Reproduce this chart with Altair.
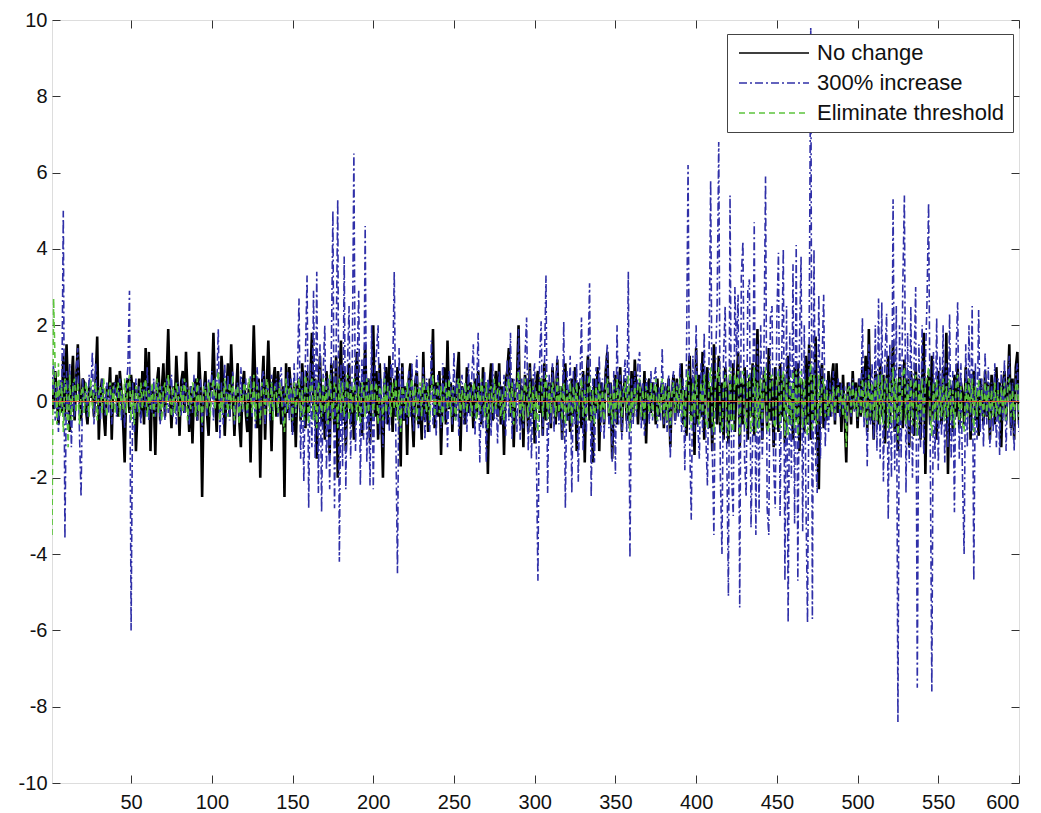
import altair as alt
import pandas as pd

series_names = ["No change", "300% increase", "Eliminate threshold"]
series_colors = ["#000000", "#3030a8", "#5cc43c"]
series_dashes = [[1, 0], [8, 3, 2, 3], [6, 4]]

x_ticks = [50, 100, 150, 200, 250, 300, 350, 400, 450, 500, 550, 600]
y_ticks = [-10, -8, -6, -4, -2, 0, 2, 4, 6, 8, 10]
reference_level = [0]

no_change = [
    0.3, -0.2, 0.8, 0.1, -0.6, 0.4, -0.3, 1.2, -0.4, 1.5, 0.2, -0.8, 0.5, 1.2, -0.5, 0.6, 1.5, 0.3, -0.5, 0.6,
    0.5, -0.2, -0.6, 0.4, 0.1, 0.3, -0.4, 0.5, 1.7, -1.0, 0.2, 0.6, -0.3, -0.9, 0.4, 0.1, 0.9, -1.0, 0.5, 0.2,
    0.7, -0.4, 0.8, 0.3, -0.5, -1.6, 0.4, 0.6, -0.3, 0.7, 0.2, 0.5, -1.3, -0.2, 0.6, -0.4, 0.8, -0.6, 1.4, -0.3,
    1.3, -1.3, 0.4, 0.2, -1.4, 0.5, 0.9, -0.5, 0.3, 1.0, -0.4, 0.6, 1.9, 0.2, -0.7, 0.4, -0.2, 1.2, 0.3, -0.9,
    0.5, 0.8, -0.3, 1.3, 0.2, -0.8, 0.4, -1.1, 0.3, 0.6, -0.5, 1.3, 0.4, -2.5, 0.2, 0.8, -0.3, -0.9, 0.5, 0.3,
    1.8, 0.2, -0.8, 0.4, -0.3, 1.2, 0.5, -0.9, 0.2, 1.0, -0.4, 1.5, 0.3, -0.9, 0.2, 1.0, -0.5, -1.2, 0.4, 0.8,
    -0.3, -0.8, 0.5, -1.6, 0.3, 2.0, 0.4, -0.7, 0.6, -2.0, 0.3, 1.2, -1.0, 0.4, 1.6, 0.2, -1.3, 0.5, 0.9, -0.4,
    0.8, 0.2, -0.6, 0.4, -2.5, 1.0, -0.3, 0.9, 0.3, -0.8, 0.5, -1.2, 0.4, 0.6, -0.5, 1.0, 0.2, -0.7, 0.8, -0.3,
    0.5, 1.8, -0.4, 0.6, -1.5, 0.3, 1.2, -0.6, 0.4, -1.0, 0.8, 0.2, -1.4, 1.0, 0.3, -0.8, 1.2, -2.0, 0.5, 1.6,
    -0.5, 0.9, -1.3, 0.4, 1.0, -0.6, 0.3, -1.0, 0.7, 1.3, -0.4, 0.5, -0.9, 0.2, 1.5, -0.3, 0.6, -1.1, 0.4, 2.0,
    -0.4, 0.8, -1.0, 1.0, -0.3, -2.0, 0.5, 0.9, -0.6, 1.2, 0.3, -0.8, 0.6, -0.4, 0.9, 0.2, -1.7, 1.0, -0.5, 0.4,
    -1.4, 0.6, 1.0, -0.3, -1.2, 0.5, 0.8, -0.6, 0.2, -1.0, 1.3, -0.5, 0.4, -0.8, 0.6, 0.3, 1.9, -0.7, 0.5, -0.4,
    0.8, -1.4, 0.3, 0.9, -0.6, 1.6, -0.2, 0.5, -0.8, 0.4, -0.4, 0.7, 1.3, -1.3, 0.4, 0.2, -0.6, 0.9, -0.3, 0.5,
    0.3, -0.7, 0.6, -0.4, 0.8, 0.2, -0.6, 0.9, -0.3, 0.5, -1.9, 0.4, 1.0, -0.5, 0.3, 0.8, -0.4, 1.0, -0.6, 0.4,
    -1.4, 0.5, 0.8, 1.4, -0.4, 0.6, -1.2, 0.3, 0.5, 2.0, -0.6, 0.4, -1.2, 0.7, 0.3, -0.8, 1.0, -0.4, 0.6, -1.1,
    0.5, 0.8, -0.3, 0.6, -0.9, 1.0, -0.5, 0.3, 0.5, -0.7, 0.9, 0.2, -0.6, 1.1, -0.4, 0.4, -1.0, 0.7, 1.0, -0.5,
    0.3, -0.8, 0.6, -0.4, 0.9, -1.3, 0.5, 0.2, -0.7, 0.8, -1.6, 0.4, 1.2, -0.5, 0.3, -1.6, 0.6, -0.3, 0.9, -1.3,
    0.5, 0.3, -0.6, 0.8, 1.3, -0.4, 0.5, -1.5, 0.2, 0.7, -0.6, 0.4, 0.9, -0.8, 0.3, 0.6, -0.5, 0.4, -0.7, 0.8,
    -0.4, 1.1, 0.3, -0.6, 0.5, 0.2, -0.5, 0.8, -1.1, 0.4, 0.6, -0.3, 0.5, 0.2, -0.6, 0.6, -0.4, 0.3, 0.5, -0.7,
    0.4, -0.3, 0.6, -1.2, 0.2, 0.7, -0.5, 0.6, -0.3, 0.4, 1.0, -0.6, 0.3, -0.9, 0.5, 1.2, -0.4, 0.6, -1.4, 1.4,
    -0.6, 0.7, -0.4, 1.3, -1.0, 0.5, 0.9, -0.7, 0.4, -1.3, 1.5, 0.3, -0.6, 1.2, -0.8, 0.5, -1.0, 0.9, 0.3, -1.1,
    0.6, -0.5, 1.0, -0.8, 0.4, 1.3, -1.2, 0.5, -0.6, 0.9, 0.2, -1.0, 0.7, -0.4, 1.0, -0.9, 0.5, 1.9, -0.6, 0.4,
    -1.0, 0.8, 0.3, -0.7, 1.4, -0.5, 0.6, -1.2, 0.9, 0.3, -0.8, 1.0, -0.4, 0.7, -1.1, 0.5, 1.2, -0.6, 0.4, -1.0,
    0.9, -0.5, 1.0, -1.3, 0.6, 0.3, -0.8, 1.2, -0.6, 1.5, -1.0, 0.7, -0.5, 1.7, -0.8, -2.3, 0.6, 1.0, -0.7, 0.4,
    -0.5, 0.8, -0.4, 0.6, 1.0, -0.6, 1.0, -0.3, 0.5, -0.8, 0.7, -0.4, -1.6, 0.5, 0.3, -0.6, 0.8, -0.2, 0.5, -0.7,
    0.6, -0.4, 0.9, -0.3, 1.2, -0.8, 1.9, -0.5, 0.4, -1.0, 0.8, 0.3, -0.6, 1.0, -0.4, 0.7, -1.1, 0.5, 1.2, -0.6,
    0.4, 1.6, -0.8, 0.5, -1.3, 0.9, 0.3, -0.7, 1.1, -0.5, 0.6, -1.2, 0.8, 0.2, -0.9, 1.0, -0.4, 0.6, -1.0, 0.5,
    1.8, -1.9, 0.4, 0.7, -0.6, 1.2, -0.4, 0.5, -1.0, 0.8, 0.3, -0.6, 0.9, -0.4, 1.8, -1.9, 0.5, 0.3, -0.8, 0.7,
    -0.4, 1.0, -0.7, 0.5, 0.2, -0.6, 0.9, -0.3, 0.6, -1.0, 0.4, 0.8, -0.5, 0.3, -0.9, 0.6, 0.2, -0.6, 0.8, -0.4,
    0.5, -1.0, 0.7, 0.3, -0.6, 0.9, -0.4, 0.5, -1.2, 0.4, 0.8, -0.5, 0.3, 1.5, -0.7, 0.6, -1.0, 0.9, 1.3, -0.6,
]

increase_300 = [
    0.3, 1.0, -0.5, 0.4, -0.8, 0.6, -0.3, 5.0, -3.6, 0.8, -0.6, 1.0, -1.2, 0.5, -0.4, 0.9, 1.4, -0.8, -2.5, 0.6,
    -0.3, 0.5, -0.4, 0.7, 0.2, 1.3, -0.6, 1.0, -0.3, 0.4, -0.5, 0.6, 0.2, -0.4, 0.5, -0.3, 0.4, -0.6, 0.3, 0.5,
    -0.4, 0.3, 0.6, -0.5, 0.2, -0.7, 0.4, 0.9, 2.9, -6.0, 0.5, -0.8, 0.6, -0.3, 0.4, -0.6, 0.3, 0.5, -0.4, 0.9,
    -0.5, 0.4, -0.3, 0.6, -0.4, 0.3, 0.5, -0.6, 0.4, 0.2, -0.5, 0.6, -0.3, 0.4, 0.7, -0.4, 0.3, -0.6, 0.5, 0.2,
    -0.4, 0.6, -0.3, 0.5, 0.3, -0.6, 0.4, -0.3, 0.7, 0.2, -0.5, 0.4, 0.6, -0.8, 0.3, 0.5, -0.4, 0.6, -0.3, 0.8,
    -0.5, 0.6, 0.3, 1.9, -1.0, 0.5, -0.6, 1.0, -0.4, 0.7, -0.5, 0.4, 0.8, -0.6, 0.3, 0.5, -0.4, 0.9, -0.3, 0.4,
    0.6, -0.5, 0.3, 0.7, -0.4, 0.5, -0.7, 0.9, 0.3, -0.5, 0.6, 0.8, -0.6, 0.4, 0.3, -0.5, 0.7, -0.3, 0.4, 0.6,
    -0.4, 0.5, 0.9, -0.6, 0.4, -0.3, 0.8, -0.5, 0.6, -0.9, 1.0, -0.4, 0.6, 2.7, -1.5, 0.8, -2.1, 1.2, 3.3, -2.8,
    1.0, -1.2, 2.9, -1.5, 3.4, -2.4, 1.5, -2.9, 0.8, 2.0, -1.8, 0.6, -2.3, 1.2, 5.0, -2.8, 1.4, 5.3, -4.2, 1.0,
    -1.7, 3.8, -2.3, 0.9, 2.5, -1.5, 1.0, 6.5, -1.3, 0.8, 2.9, -2.2, 1.1, -1.0, 4.6, -1.6, 0.6, -2.2, 2.0, -2.3,
    0.8, 1.3, 2.0, -0.9, 0.6, -1.2, 1.0, -0.6, 0.5, -0.8, 1.0, 0.6, 3.4, -1.0, -4.5, 1.4, -0.7, 0.9, -0.5, 0.4,
    -0.6, 0.8, -0.4, 1.0, -0.8, 0.5, 1.2, -0.7, 0.4, -0.5, 0.9, -1.0, 0.6, 0.3, -0.8, 1.6, -0.6, 0.4, -0.9, 0.7,
    0.3, -0.7, 1.0, -0.5, 0.6, -1.2, 0.8, 0.4, -0.6, 1.3, -0.5, 0.6, -0.9, 0.4, 0.7, -0.6, 0.5, -0.8, 1.0, -0.4,
    0.6, 1.5, -0.9, 0.4, 1.8, -1.6, 0.5, -0.7, 0.8, -1.6, 0.6, 0.3, -0.9, 1.0, -0.5, 0.4, -1.1, 0.8, 0.3, -0.6,
    0.7, -0.9, 1.1, -0.5, 1.8, -1.0, 0.6, 0.4, -0.8, 1.9, -1.0, 0.6, -0.7, 1.2, 2.2, -1.3, 0.9, -1.5, 0.6, 1.0,
    -1.2, -4.7, 1.0, 2.1, -0.9, 0.8, 3.3, -2.4, 0.7, -0.6, 1.0, -0.8, 0.5, 1.2, -0.6, 0.4, -1.0, 2.1, -2.8, 0.8,
    -0.5, 1.2, -2.4, 0.8, -0.6, 1.0, -2.1, 0.5, 2.2, -1.3, 0.7, -0.8, 1.0, 3.1, -2.5, 0.6, -1.6, 0.9, -0.5, 1.2,
    -0.8, 0.6, -1.0, 0.9, 1.5, -0.7, 0.5, -1.6, 0.8, -1.9, 2.0, -0.6, 0.7, -1.0, 0.5, 1.1, -0.8, 3.4, -4.1, 0.6,
    -0.6, 0.8, -0.4, 1.0, 1.3, -0.7, 0.5, -0.9, 0.6, 0.3, -0.6, 0.8, -0.5, 0.6, 0.9, -0.7, 0.4, -0.5, 1.4, -0.6,
    0.5, -0.8, 0.7, -1.5, 0.4, 0.8, -0.6, 0.5, -0.4, 1.0, -0.8, 0.6, -1.8, 1.0, 6.2, -1.0, -3.1, 1.2, -0.8, 2.0,
    -0.6, -1.5, 1.0, -0.8, 1.8, -0.9, -2.2, 1.1, 5.8, -1.2, -3.5, 1.0, 2.5, 6.8, -1.9, -4.0, 1.2, 2.5, -1.4, -5.1,
    5.4, -2.0, -3.0, 3.0, 1.2, 2.8, -5.4, 3.3, 4.2, -1.5, -2.5, 2.9, 3.2, -3.3, -1.0, 4.7, -3.5, 1.5, -2.9, 2.0,
    -1.5, 1.2, 5.9, -2.8, -3.5, 2.2, 2.5, -1.6, -2.8, 2.2, 3.9, -3.0, 1.0, 4.0, -4.7, 2.5, -5.8, 1.8, -2.0, 3.6,
    -3.2, 4.1, -4.7, 1.5, 3.8, -3.4, 2.0, -2.5, -5.8, 1.5, 9.8, -5.7, 4.0, -1.5, -2.4, 2.8, -1.5, 1.0, 2.8, -1.2,
    0.6, -0.8, 0.5, -0.4, 0.8, -0.5, 0.3, 0.6, -0.4, 0.5, -0.3, 0.4, -0.6, 0.3, 0.5, -0.4, 0.6, -0.3, 0.4, -0.5,
    0.6, -0.4, 2.2, -0.7, 0.8, -1.7, 1.5, -0.6, 1.0, -1.0, 2.0, -1.3, 2.7, -1.5, 2.6, -2.1, 1.2, 2.3, -3.1, 1.5,
    -2.0, 5.3, -1.8, 2.5, -8.4, 2.0, -1.5, 3.0, 5.4, -2.4, 1.8, -1.6, 2.5, -2.0, 1.0, 3.0, -7.5, 1.5, -1.2, 2.0,
    -1.4, 1.0, 2.6, 5.2, -1.0, -7.6, 1.3, -1.5, 2.2, -1.8, 1.2, -0.9, 2.0, -1.6, 1.0, -1.2, 2.3, -1.5, 0.8, -2.9,
    1.2, 2.6, -1.5, 1.0, -2.0, -4.0, 1.5, -1.2, 2.0, -0.8, 2.5, -4.7, 1.0, -1.0, 2.4, -0.8, 0.6, -1.2, 1.3, -0.6,
    0.9, -1.2, 0.5, -0.8, 1.0, -1.2, 0.6, -1.4, 0.8, -0.5, 1.1, -1.3, 0.6, 1.2, -0.9, 0.5, -1.3, 0.7, 1.0, -0.8,
]

eliminate_threshold = [
    -3.5, 2.7, 0.8, -0.6, 1.0, -0.4, 0.5, -0.8, 0.6, 0.3, -1.2, 0.7, -0.5, 0.4, 0.6, -0.3, 0.5, -0.6, 0.2, 0.4,
    -0.3, 0.5, 0.2, -0.4, 0.6, -0.2, 0.3, 0.5, -0.5, 0.2, 0.4, -0.3, 0.6, 0.1, -0.4, 0.3, 0.5, -0.2, 0.4, -0.3,
    0.2, 0.5, -0.4, 0.3, -0.2, 0.6, -0.3, 0.4, 0.7, -0.5, 0.3, -0.6, 0.4, 0.2, -0.3, 0.5, -0.2, 0.3, 0.6, -0.4,
    0.3, -0.2, 0.5, -0.4, 0.2, 0.6, -0.3, 0.4, -0.5, 0.3, 0.5, -0.2, 0.7, 0.1, -0.4, 0.4, -0.3, 0.5, 0.2, -0.4,
    0.4, -0.3, 0.6, 0.2, -0.5, 0.3, -0.2, 0.5, 0.3, -0.4, 0.6, -0.3, 0.2, -0.6, 0.4, 0.3, -0.2, 0.5, -0.4, 0.3,
    0.6, -0.2, 0.4, 0.8, -0.5, 0.3, -0.3, 0.6, 0.2, -0.4, 0.5, -0.2, 0.7, -0.5, 0.3, 0.4, -0.6, 0.3, -0.2, 0.5,
    0.3, -0.4, 0.6, 0.2, -0.3, 0.7, -0.5, 0.4, 0.2, -0.6, 0.5, 0.3, -0.4, 0.6, 0.2, -0.3, 0.5, -0.5, 0.4, 0.2,
    -0.3, 0.5, 0.2, -0.4, -0.8, 0.6, -0.2, 0.4, 0.3, -0.5, 0.5, -0.3, 0.2, 0.6, -0.4, 0.3, -0.5, 0.7, 0.2, -0.6,
    0.4, 0.6, -0.5, 0.3, -0.7, 0.5, 0.2, -0.4, 0.6, -0.3, 0.4, -0.6, 0.7, 0.2, -0.5, 0.5, 0.3, -0.7, 0.6, -0.3,
    0.5, -0.4, 0.3, 0.7, -0.5, 0.4, -0.3, 0.6, 0.2, -0.5, 0.4, -0.6, 0.5, 0.3, -0.4, 0.6, -0.3, 0.2, 0.5, -0.4,
    0.3, 0.5, -0.6, 0.4, 0.2, -0.5, 0.6, -0.3, 0.4, 0.3, -0.4, 0.5, -0.2, 0.6, -0.5, 0.3, -0.8, 0.4, 0.2, -0.3,
    0.5, -0.4, 0.3, 0.6, -0.3, 0.4, -0.5, 0.2, 0.5, -0.4, 0.6, 0.2, -0.3, 0.4, -0.5, 0.3, 0.7, -0.4, 0.2, 0.5,
    -0.3, 0.4, -0.6, 0.3, 0.5, -0.2, 0.6, -0.4, 0.3, 0.2, -0.5, 0.4, 0.6, -0.4, 0.3, -0.2, 0.5, -0.3, 0.4, 0.2,
    -0.4, 0.5, 0.3, -0.5, 0.4, -0.3, 0.6, 0.2, -0.4, 0.5, -0.7, 0.3, 0.4, -0.3, 0.6, -0.2, 0.3, 0.5, -0.4, 0.2,
    -0.5, 0.4, 0.3, 0.6, -0.3, 0.5, -0.6, 0.2, 0.4, 0.8, -0.4, 0.3, -0.5, 0.6, 0.2, -0.4, 0.5, -0.3, 0.4, -0.5,
    0.3, -0.8, 0.5, 0.6, -0.4, 0.3, 0.7, -0.5, 0.4, -0.3, 0.5, 0.2, -0.4, 0.6, -0.3, 0.4, -0.5, 0.5, -0.6, 0.3,
    -0.3, 0.5, -0.6, 0.4, -0.2, 0.5, -0.5, 0.3, 0.6, -0.4, 0.3, -0.5, 0.4, 0.7, -0.5, 0.3, -0.6, 0.4, -0.2, 0.5,
    -0.4, 0.3, -0.5, 0.4, 0.6, -0.3, 0.2, -0.6, 0.4, -0.5, 0.6, -0.2, 0.3, -0.4, 0.2, 0.5, -0.3, 0.7, -0.8, 0.3,
    -0.3, 0.4, -0.2, 0.5, 0.6, -0.4, 0.3, -0.5, 0.4, 0.2, -0.3, 0.5, -0.4, 0.3, 0.6, -0.5, 0.2, -0.3, 0.6, -0.4,
    0.3, -0.5, 0.4, -0.6, 0.2, 0.5, -0.3, 0.4, -0.2, 0.6, -0.4, 0.3, -0.7, 0.5, 0.8, -0.3, -0.7, 0.5, -0.4, 0.7,
    -0.4, -0.6, 0.5, -0.3, 0.7, -0.5, -0.7, 0.4, 0.9, -0.5, -0.8, 0.5, 0.6, 0.9, -0.5, -0.8, 0.4, 0.7, -0.5, -0.9,
    0.9, -0.6, -0.8, 0.7, 0.4, 0.8, -0.9, 0.7, 0.8, -0.5, -0.7, 0.6, 0.7, -0.8, -0.4, 0.9, -0.8, 0.5, -0.7, 0.6,
    -0.5, 0.4, 0.9, -0.7, -0.8, 0.6, 0.7, -0.5, -0.7, 0.6, 0.8, -0.7, 0.4, 0.8, -0.9, 0.6, -0.9, 0.5, -0.6, 0.8,
    -0.7, 0.8, -0.9, 0.5, 0.8, -0.7, 0.6, -0.6, -0.9, 0.5, 1.0, -0.8, 0.7, -0.5, -0.6, 0.7, -0.4, 0.4, 0.6, -0.4,
    0.3, -0.4, 0.2, -0.3, 0.4, -0.3, 0.2, 0.4, -0.2, 0.3, -0.4, 0.2, -1.2, 0.3, 0.4, -0.3, 0.5, -0.2, 0.3, -0.4,
    0.4, -0.3, 0.6, -0.4, 0.5, -0.6, 0.7, -0.4, 0.5, -0.5, 0.6, -0.5, 0.7, -0.6, 0.7, -0.6, 0.5, 0.6, -0.7, 0.5,
    -0.6, 0.9, -0.5, 0.6, -1.0, 0.6, -0.5, 0.7, 0.9, -0.6, 0.5, -0.5, 0.6, -0.6, 0.4, 0.7, -0.9, 0.5, -0.4, 0.6,
    -0.5, 0.4, 0.6, 0.9, -0.4, -0.9, 0.5, -0.5, 0.6, -0.5, 0.4, -0.4, 0.6, -0.5, 0.4, -0.4, 0.6, -0.5, 0.3, -0.7,
    0.4, 0.7, -0.5, 0.4, -0.6, -0.8, 0.5, -0.4, 0.6, -0.3, 0.6, -0.8, 0.4, -0.4, 0.6, -0.3, 0.3, -0.4, 0.5, -0.3,
    0.4, -0.5, 0.3, -0.4, 0.5, -0.4, 0.3, -0.5, 0.4, -0.3, 0.5, -0.5, 0.3, 0.6, -0.4, 0.3, -0.5, 0.4, 0.5, -0.4,
]

frames = []
for name, vals in zip(series_names, [no_change, increase_300, eliminate_threshold]):
    frames.append(pd.DataFrame({"t": list(range(1, len(vals) + 1)), "value": vals, "series": name}))
df = pd.concat(frames, ignore_index=True)
ref_df = pd.DataFrame({"level": reference_level})

FONT = "Liberation Sans"
TICK = "#333333"

neg_label = "datum.value < 0 ? '-' + abs(datum.value) : '' + datum.value"

x_scale = alt.Scale(domain=[1, 600], nice=False, zero=False)
y_scale = alt.Scale(domain=[-10, 10], nice=False)

color_enc = alt.Color(
    "series:N",
    scale=alt.Scale(domain=series_names, range=series_colors),
    sort=series_names,
    legend=alt.Legend(
        title=None,
        orient="none",
        legendX=675,
        legendY=14,
        direction="vertical",
        symbolType="M-0.7,0H6.3",
        symbolSize=400,
        symbolStrokeWidth=1.6,
        labelFontSize=22,
        labelFont=FONT,
        labelColor="#111111",
        labelLimit=400,
        labelOffset=60,
        rowPadding=8,
        padding=8,
        strokeColor="#444444",
        fillColor="white",
    ),
)
dash_enc = alt.StrokeDash(
    "series:N",
    scale=alt.Scale(domain=series_names, range=series_dashes),
    sort=series_names,
    legend=None,
)

main_x = alt.Axis(
    orient="bottom", values=x_ticks, offset=-8, tickSize=8, tickColor=TICK,
    domain=False, grid=False, labelFontSize=20, labelFont=FONT, labelColor="#111111",
    labelPadding=9, title=None,
)
main_y = alt.Axis(
    orient="left", values=y_ticks, offset=-8, tickSize=8, tickColor=TICK,
    domain=False, grid=False, labelFontSize=20, labelFont=FONT, labelColor="#111111",
    labelPadding=5, labelExpr=neg_label, title=None,
)
top_x = alt.Axis(
    orient="top", values=x_ticks, offset=-8, tickSize=8, tickColor=TICK,
    domain=False, grid=False, labels=False, title=None,
)
right_y = alt.Axis(
    orient="right", values=y_ticks, offset=-8, tickSize=8, tickColor=TICK,
    domain=False, grid=False, labels=False, title=None,
)


def series_layer(name, width, xa, ya):
    return (
        alt.Chart(df)
        .transform_filter(alt.datum.series == name)
        .mark_line(strokeWidth=width, clip=True)
        .encode(
            x=alt.X("t:Q", scale=x_scale, axis=xa),
            y=alt.Y("value:Q", scale=y_scale, axis=ya),
            color=color_enc,
            strokeDash=dash_enc,
        )
    )


black = series_layer("No change", 2.6, main_x, main_y)
blue = series_layer("300% increase", 1.6, top_x, right_y)
green = series_layer("Eliminate threshold", 1.6, None, None)

zero_line = (
    alt.Chart(ref_df)
    .mark_rule(color="#e8603a", strokeWidth=1)
    .encode(y=alt.Y("level:Q", scale=y_scale, axis=None))
)

chart = (
    alt.layer(black, blue, green, zero_line)
    .resolve_axis(x="independent", y="independent")
    .properties(
        width=967,
        height=763,
        autosize="none",
        padding={"left": 44, "top": 12, "right": 14, "bottom": 30},
    )
    .configure_view(stroke="#444444", strokeWidth=1.2)
    .configure(background="white")
)

chart.save("out.html", embed_options={"renderer": "svg", "actions": False})
